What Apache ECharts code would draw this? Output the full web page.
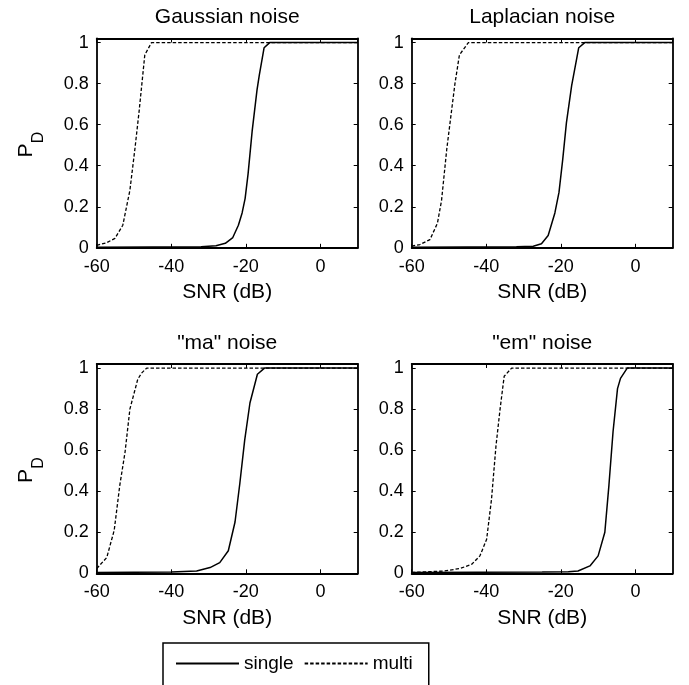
<!DOCTYPE html>
<html>
<head>
<meta charset="utf-8">
<script src="https://cdn.jsdelivr.net/npm/echarts@6/dist/echarts.min.js"></script>
<style>
html,body{margin:0;padding:0;background:#fff;}
#chart{width:689px;height:685px;}
</style>
</head>
<body>
<div id="chart"></div>
<script>
// ---- data ----
const panelTitles = ['Gaussian noise', 'Laplacian noise', '"ma" noise', '"em" noise'];
const seriesNames = ['single', 'multi'];
const xTicks = [-60, -40, -20, 0];
const yTicks = [0, 0.2, 0.4, 0.6, 0.8, 1];
const xLabel = 'SNR (dB)';

const gaussSingle = [[-60,0.003],[-45,0.004],[-32,0.005],[-28,0.01],[-25.5,0.022],[-23.5,0.05],[-22,0.11],[-21,0.17],[-20.2,0.24],[-19.4,0.36],[-18.3,0.57],[-17,0.77],[-16.4,0.84],[-15.1,0.975],[-13.6,1],[10,1]];
const gaussMulti = [[-60,0.012],[-57.3,0.025],[-55.1,0.046],[-53,0.11],[-51.1,0.28],[-49.7,0.49],[-48.6,0.67],[-47.1,0.94],[-45.3,1],[10,1]];
const laplSingle = [[-60,0.003],[-45,0.004],[-31.9,0.005],[-27.4,0.008],[-25.2,0.02],[-23.4,0.06],[-21.6,0.17],[-20.5,0.27],[-19.5,0.43],[-18.5,0.61],[-17.1,0.79],[-15.2,0.975],[-13.6,1],[10,1]];
const laplMulti = [[-60,0.008],[-57.8,0.016],[-55.1,0.04],[-53.1,0.12],[-52,0.23],[-50.6,0.48],[-49.3,0.67],[-48.4,0.8],[-47.2,0.94],[-44.8,1],[10,1]];
const maSingle = [[-60,0.004],[-40,0.006],[-33.2,0.011],[-29.6,0.028],[-27,0.052],[-24.7,0.11],[-22.9,0.25],[-21.6,0.44],[-20.3,0.65],[-18.9,0.83],[-16.9,0.97],[-15,1],[10,1]];
const maMulti = [[-60,0.023],[-57.3,0.077],[-55.3,0.21],[-53.8,0.43],[-52.4,0.59],[-51.1,0.8],[-49,0.945],[-48,0.975],[-46.6,1],[10,1]];
const emSingle = [[-60,0.004],[-25,0.006],[-18,0.008],[-15.4,0.011],[-12.2,0.036],[-10,0.085],[-8.2,0.2],[-7.1,0.43],[-6,0.69],[-4.8,0.9],[-4,0.95],[-2.2,1],[10,1]];
const emMulti = [[-60,0.004],[-51.5,0.011],[-47.1,0.023],[-43.9,0.044],[-41.7,0.085],[-39.9,0.166],[-38.6,0.36],[-37.4,0.62],[-36.3,0.8],[-35.2,0.96],[-33.2,1],[10,1]];

const singleData = [gaussSingle, laplSingle, maSingle, emSingle];
const multiData = [gaussMulti, laplMulti, maMulti, emMulti];

// ---- layout ----
const FONT = "'Liberation Sans', Arial, Helvetica, sans-serif";
const gridBoxes = [
  {left: 96.7, top: 38.5},
  {left: 411.7, top: 38.5},
  {left: 96.7, top: 364},
  {left: 411.7, top: 364}
];
const GW = 261, GH = 209.3;
const X_MIN = xTicks[0], X_MAX = 10, X_INT = xTicks[1] - xTicks[0];
const Y_MIN = yTicks[0], Y_MAX = 1.02, Y_INT = yTicks[1] - yTicks[0];

const grids = [], xAxes = [], yAxes = [], series = [], graphics = [];
const axisLineStyle = {color: '#000', width: 1.8};

gridBoxes.forEach((g, i) => {
  grids.push({left: g.left, top: g.top, width: GW, height: GH, containLabel: false});
  const baseX = {
    gridIndex: i, type: 'value', min: X_MIN, max: X_MAX, interval: X_INT,
    axisLine: {show: true, onZero: false, lineStyle: axisLineStyle},
    axisTick: {show: true, inside: true, length: 4, lineStyle: {color: '#000', width: 1}},
    splitLine: {show: false}
  };
  xAxes.push(Object.assign({}, baseX, {
    position: 'bottom',
    axisLabel: {show: true, color: '#000', fontSize: 18, fontFamily: FONT, margin: 10, showMaxLabel: false,
      formatter: v => (xTicks.indexOf(v) >= 0 ? String(v) : '')},
    name: xLabel, nameLocation: 'middle', nameGap: 34,
    nameTextStyle: {color: '#000', fontSize: 21, fontFamily: FONT}
  }));
  xAxes.push(Object.assign({}, baseX, {position: 'top', axisLabel: {show: false}}));
  const baseY = {
    gridIndex: i, type: 'value', min: Y_MIN, max: Y_MAX, interval: Y_INT,
    axisLine: {show: true, onZero: false, lineStyle: axisLineStyle},
    axisTick: {show: true, inside: true, length: 4, lineStyle: {color: '#000', width: 1}},
    splitLine: {show: false}
  };
  yAxes.push(Object.assign({}, baseY, {
    position: 'left',
    axisLabel: {show: true, color: '#000', fontSize: 18, fontFamily: FONT, margin: 8, showMaxLabel: false,
      formatter: v => (yTicks.some(t => Math.abs(t - v) < 1e-9) ? String(+v.toFixed(1)) : '')}
  }));
  yAxes.push(Object.assign({}, baseY, {position: 'right', axisLabel: {show: false}}));

  series.push({
    type: 'line', name: seriesNames[1], xAxisIndex: 2 * i, yAxisIndex: 2 * i,
    data: multiData[i], symbol: 'none', smooth: false,
    lineStyle: {color: '#000', width: 1.3, type: [3.5, 2]}, itemStyle: {color: '#000'}
  });
  series.push({
    type: 'line', name: seriesNames[0], xAxisIndex: 2 * i, yAxisIndex: 2 * i,
    data: singleData[i], symbol: 'none', smooth: false,
    lineStyle: {color: '#000', width: 1.5, type: 'solid'}, itemStyle: {color: '#000'}
  });

  // panel title
  graphics.push({
    type: 'text', x: g.left + GW / 2, y: g.top - 21,
    style: {text: panelTitles[i], fill: '#000', fontSize: 21, fontFamily: FONT, align: 'center', verticalAlign: 'middle'}
  });
  // y-axis label P_D on left panels
  if (i % 2 === 0) {
    graphics.push({
      type: 'group', x: 26, y: g.top + 112, rotation: Math.PI / 2,
      children: [
        {type: 'text', x: 0, y: 0, style: {text: 'P', fill: '#000', fontSize: 21, fontFamily: FONT, align: 'center', verticalAlign: 'middle'}},
        {type: 'text', x: 13, y: 13, style: {text: 'D', fill: '#000', fontSize: 16, fontFamily: FONT, align: 'center', verticalAlign: 'middle'}}
      ]
    });
  }
});

const chart = echarts.init(document.getElementById('chart'), null, {renderer: 'canvas'});
chart.setOption({
  animation: false,
  backgroundColor: '#fff',
  grid: grids,
  xAxis: xAxes,
  yAxis: yAxes,
  series: series,
  legend: {
    data: seriesNames,
    left: 163, top: 643,
    orient: 'horizontal',
    itemWidth: 63, itemHeight: 14, itemGap: 10,
    padding: [11, 16, 40, 12],
    borderColor: '#000', borderWidth: 1.5, backgroundColor: '#fff',
    selectedMode: false,
    itemStyle: {opacity: 0},
    textStyle: {color: '#000', fontSize: 19, fontFamily: FONT}
  },
  graphic: graphics
});
</script>
</body>
</html>
